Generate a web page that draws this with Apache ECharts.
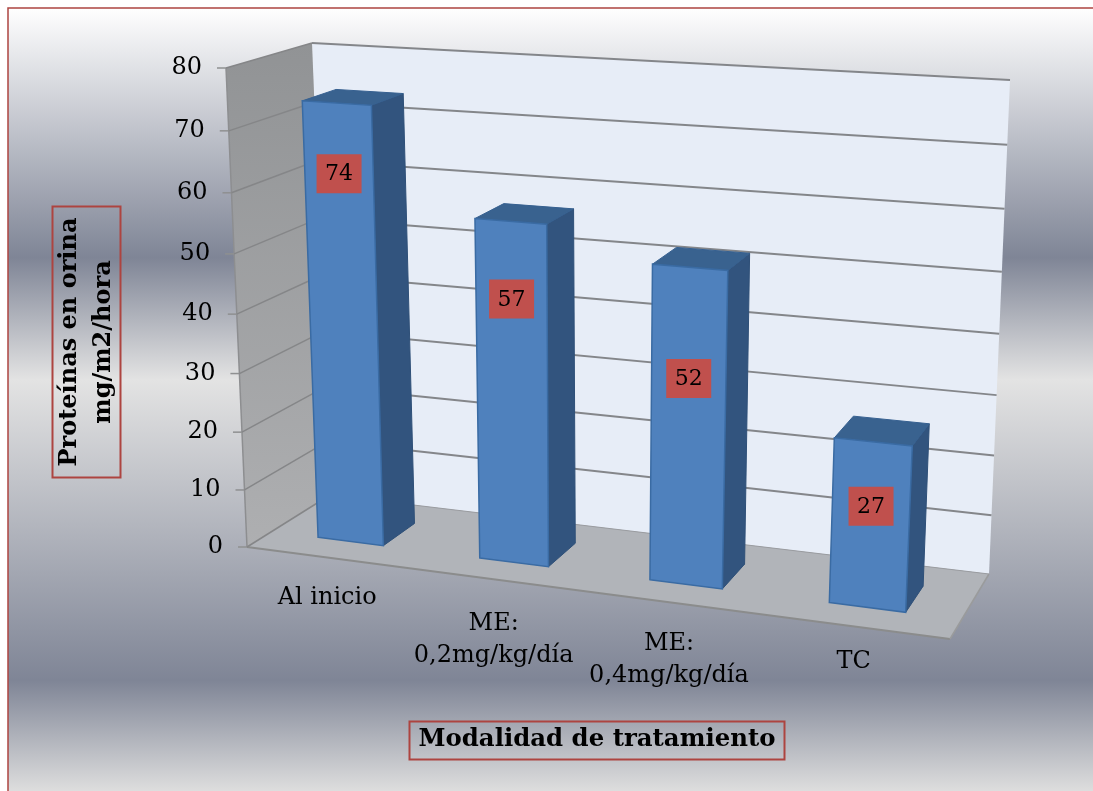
<!DOCTYPE html>
<html>
<head>
<meta charset="utf-8">
<style>html,body{margin:0;padding:0;background:#fff}#chart{width:1093px;height:791px}</style>
<script src="https://cdn.jsdelivr.net/npm/echarts@6/dist/echarts.min.js"></script>
</head>
<body>
<div id="chart"></div>
<script>
// Chart data
const categories = ['Al inicio', 'ME:\n0,2mg/kg/día', 'ME:\n0,4mg/kg/día', 'TC'];
const proteinValues = [74, 57, 52, 27];
const yTicks = [0, 10, 20, 30, 40, 50, 60, 70, 80];
const yAxisTitle = 'Proteínas en orina\nmg/m2/hora';
const xAxisTitle = 'Modalidad de tratamiento';

// Corners of the 3D box on screen: [front/back][left/right][floor/ceiling]
const BOX = {
  flb: [247, 547], flt: [226, 68],
  blb: [330, 495], blt: [312, 43],
  frb: [950, 639], frt: [975, 115],
  brb: [989, 574], brt: [1010, 80]
};
const PERSPECTIVE_X = 1.11;
const PERSPECTIVE_Y = 1.057;
const BAR_BAND = 0.41;
const BAR_FRONT = 0.3;
const BAR_BACK = 0.71;
// Placement of the value boxes along each bar and drop of the category labels below the floor
const LABEL_RISE = [0.839, 0.772, 0.649, 0.612];
const CATEGORY_DROP = [40, 60, 58, 35];

const SERIF = '"DejaVu Serif", serif';

const warp = (t, k) => t / (t + k * (1 - t));
const mix = (a, b, t) => [a[0] + (b[0] - a[0]) * t, a[1] + (b[1] - a[1]) * t];

// Maps normalised box coordinates (across, up, deep) onto the screen
function project(tx, ty, tz) {
  const u = warp(tx, PERSPECTIVE_X);
  const v = warp(ty, PERSPECTIVE_Y);
  const front = mix(mix(BOX.flb, BOX.frb, u), mix(BOX.flt, BOX.frt, u), v);
  const back = mix(mix(BOX.blb, BOX.brb, u), mix(BOX.blt, BOX.brt, u), v);
  return mix(front, back, tz);
}

function axisFractions(params, api, category, value) {
  const cs = params.coordSys;
  const p = api.coord([category, value]);
  return [(p[0] - cs.x) / cs.width, (cs.y + cs.height - p[1]) / cs.height];
}

const poly = (points, style) => ({ type: 'polygon', shape: { points }, style });
const line = (a, b, stroke, lineWidth) => ({
  type: 'line',
  shape: { x1: a[0], y1: a[1], x2: b[0], y2: b[1] },
  style: { stroke, lineWidth }
});
const text = (x, y, str, fontSize, extra) => ({
  type: 'text',
  x, y,
  style: Object.assign({
    text: str, fontSize, fontFamily: SERIF, fill: '#000',
    align: 'center', verticalAlign: 'middle'
  }, extra || {})
});

function renderWalls() {
  const wallFill = new echarts.graphic.LinearGradient(0, 0, 0, 1, [
    { offset: 0, color: '#919395' },
    { offset: 1, color: '#aeafb1' }
  ]);
  return {
    type: 'group',
    children: [
      poly([project(0, 0, 1), project(1, 0, 1), project(1, 1, 1), project(0, 1, 1)], { fill: '#e7edf7' }),
      poly([project(0, 0, 0), project(0, 0, 1), project(0, 1, 1), project(0, 1, 0)], { fill: wallFill }),
      poly([project(0, 0, 0), project(1, 0, 0), project(1, 0, 1), project(0, 0, 1)], { fill: '#b1b4b9' }),
      line(project(0, 0, 0), project(0, 1, 0), '#8d8e90', 1.5),
      line(project(0, 0, 0), project(1, 0, 0), '#8b8c8c', 2),
      line(project(1, 0, 0), project(1, 0, 1), '#9a9b9c', 1.5)
    ]
  };
}

function renderGridLine(params, api) {
  const value = api.value(1);
  const ty = axisFractions(params, api, 0, value)[1];
  const front = project(0, ty, 0);
  const corner = project(0, ty, 1);
  const right = project(1, ty, 1);
  return {
    type: 'group',
    children: [
      line([front[0] - 9, front[1]], front, '#8f9091', 1.5),
      line(front, corner, '#858688', 1.5),
      line(corner, right, value === 0 ? '#9a9ca0' : '#84868a', value === 0 ? 1 : 2),
      text(front[0] - 24, front[1], String(value), 24, { align: 'right' })
    ]
  };
}

function renderBar(params, api) {
  const i = api.value(0);
  const value = api.value(1);
  const half = api.size([1, 0])[0] * BAR_BAND / 2 / params.coordSys.width;
  const [cx, top] = axisFractions(params, api, i, value);
  const l = cx - half;
  const r = cx + half;
  const fBL = project(l, 0, BAR_FRONT), fBR = project(r, 0, BAR_FRONT);
  const fTL = project(l, top, BAR_FRONT), fTR = project(r, top, BAR_FRONT);
  const bBR = project(r, 0, BAR_BACK);
  const bTL = project(l, top, BAR_BACK), bTR = project(r, top, BAR_BACK);

  const base = mix(fBL, fBR, 0.5);
  const crown = mix(fTL, fTR, 0.5);
  const mark = mix(base, crown, LABEL_RISE[i]);
  const edge = project(cx, 0, 0);

  return {
    type: 'group',
    children: [
      poly([fBR, bBR, bTR, fTR], { fill: '#32547e', stroke: '#2f5078', lineWidth: 1 }),
      poly([fTL, bTL, bTR, fTR], { fill: '#39628f', stroke: '#366090', lineWidth: 1 }),
      poly([fBL, fBR, fTR, fTL], { fill: '#4f81bd', stroke: '#3a6ba3', lineWidth: 1.5 }),
      {
        type: 'rect',
        shape: { x: mark[0] - 22.5, y: mark[1] - 19.5, width: 45, height: 39 },
        style: { fill: '#c0504d' }
      },
      text(mark[0], mark[1] + 1, String(value), 22),
      text(edge[0], edge[1] + CATEGORY_DROP[i], categories[i], 24, { lineHeight: 32 })
    ]
  };
}

const chart = echarts.init(document.getElementById('chart'), null, { renderer: 'canvas' });

chart.setOption({
  animation: false,
  backgroundColor: '#ffffff',
  grid: { left: 100, right: 100, top: 100, bottom: 100 },
  xAxis: { type: 'category', data: categories, show: false },
  yAxis: { type: 'value', min: 0, max: 80, interval: 10, show: false },
  graphic: [
    {
      type: 'rect',
      z: -10,
      shape: { x: 8, y: 8, width: 1110, height: 810 },
      style: {
        stroke: '#ad4440',
        lineWidth: 1.5,
        fill: new echarts.graphic.LinearGradient(0, 0, 0, 1, [
          { offset: 0, color: '#ffffff' },
          { offset: (258 - 8) / 810, color: '#7f8596' },
          { offset: (380 - 8) / 810, color: '#e3e3e3' },
          { offset: (680 - 8) / 810, color: '#7f8596' },
          { offset: (791 - 8) / 810, color: '#dedede' },
          { offset: 1, color: '#e3e3e3' }
        ])
      }
    },
    {
      type: 'rect',
      z: 20,
      shape: { x: 52.5, y: 206.5, width: 68, height: 271 },
      style: { stroke: '#ad4440', lineWidth: 2, fill: 'transparent' }
    },
    {
      type: 'text',
      z: 21,
      x: 87,
      y: 342,
      rotation: Math.PI / 2,
      style: {
        text: yAxisTitle, fontSize: 24, fontWeight: 'bold', fontFamily: SERIF,
        fill: '#000', align: 'center', verticalAlign: 'middle', lineHeight: 34
      }
    },
    {
      type: 'rect',
      z: 20,
      shape: { x: 409.5, y: 721.5, width: 375, height: 38 },
      style: { stroke: '#ad4440', lineWidth: 2, fill: 'transparent' }
    },
    {
      type: 'text',
      z: 21,
      x: 597,
      y: 740,
      style: {
        text: xAxisTitle, fontSize: 24.4, fontWeight: 'bold', fontFamily: SERIF,
        fill: '#000', align: 'center', verticalAlign: 'middle'
      }
    }
  ],
  series: [
    {
      name: 'walls',
      type: 'custom',
      z: 1,
      silent: true,
      clip: false,
      data: [[0, 0]],
      encode: { x: 0, y: 1 },
      renderItem: renderWalls
    },
    {
      name: 'gridlines',
      type: 'custom',
      z: 2,
      silent: true,
      clip: false,
      data: yTicks.map(v => [0, v]),
      encode: { x: 0, y: 1 },
      renderItem: renderGridLine
    },
    {
      name: 'Proteínas en orina',
      type: 'custom',
      z: 3,
      clip: false,
      data: proteinValues.map((v, i) => [i, v]),
      encode: { x: 0, y: 1 },
      renderItem: renderBar
    }
  ]
});
</script>
</body>
</html>
